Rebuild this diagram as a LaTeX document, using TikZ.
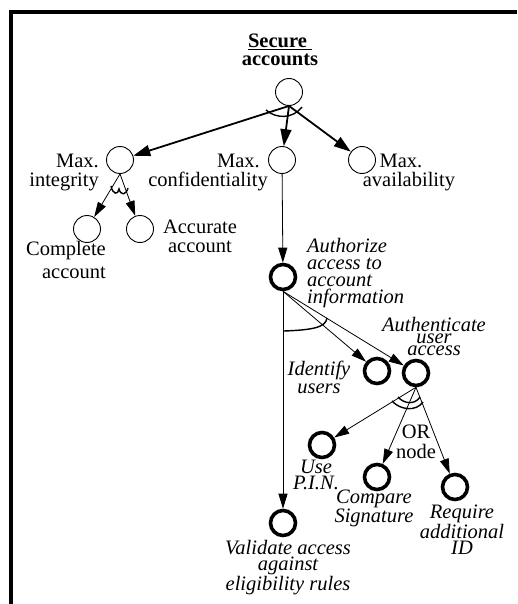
\documentclass[tikz,border=0pt]{standalone}
\usepackage{fontspec}
\setmainfont{Liberation Serif}
\usetikzlibrary{arrows.meta}
\begin{document}
\begin{tikzpicture}[x=1pt,y=-1pt,
  goal/.style={circle,draw,line width=0.9pt,minimum size=27pt,inner sep=0pt},
  opgoal/.style={circle,draw,line width=3.6pt,minimum size=25pt,inner sep=0pt},
  lbl/.style={inner sep=0pt,font=\fontsize{20.5}{19}\selectfont},
  ilbl/.style={inner sep=0pt,font=\fontsize{20.5}{16}\selectfont\itshape},
  bigarrow/.style={line width=1.8pt,-{Triangle[length=17pt,width=11pt]}},
  smallarrow/.style={line width=0.8pt,-{Triangle[length=15pt,width=9pt]}},
  andarc/.style={line width=1.4pt},
  frameline/.style={line width=4pt}
]
\useasboundingbox (0,0) rectangle (517,604);
\draw[frameline] (517,12) -- (11,12) -- (11,604);

% goal nodes
\node[goal] (root) at (289,92) {};
\node[goal] (mi) at (120,160) {};
\node[goal] (mc) at (282,160) {};
\node[goal] (ma) at (362,160) {};
\node[goal] (ca) at (87,229) {};
\node[goal] (aa) at (140,229) {};
\node[opgoal] (auth) at (283,277) {};
\node[opgoal] (idu) at (377,371) {};
\node[opgoal] (aut) at (416,373) {};
\node[opgoal] (pin) at (322,445) {};
\node[opgoal] (cmp) at (377,477) {};
\node[opgoal] (req) at (455,487) {};
\node[opgoal] (val) at (283,523) {};

% labels (anchor = baseline of last line)
\node[lbl,font=\fontsize{20.5}{18}\selectfont\bfseries,align=center,anchor=base] (title) at (280,66) {\underline{Secure\ }\\accounts};
\node[lbl,align=right,anchor=base east] (tmi) at (99,186) {Max.\\integrity};
\node[lbl,align=right,anchor=base east] (tmc) at (268,186) {Max.\hspace*{8pt}\\confidentiality};
\node[lbl,align=center,anchor=base] (tma) at (409,186) {Max.\hspace*{16pt}\\availability};
\node[lbl,align=right,anchor=base east] (tca) at (106,278) {Complete\\[4pt]account};
\node[lbl,align=center,anchor=base] (taa) at (200,252) {Accurate\\account};
\node[ilbl,font=\fontsize{20.5}{17}\selectfont\itshape,align=left,anchor=base west] (tauth) at (307,303) {Authorize\\access to\\account\\information};
\node[ilbl,font=\fontsize{20.5}{12}\selectfont\itshape,align=center,anchor=base] (taut) at (434,355) {Authenticate\\user\\access};
\node[ilbl,align=center,anchor=base] (tidu) at (319,393) {Identify\\[2pt]users};
\node[lbl,align=center,anchor=base] (tor) at (416,458) {OR\\[1pt]node};
\node[ilbl,align=center,anchor=base] (tpin) at (316,489) {Use\\P.I.N.};
\node[ilbl,font=\fontsize{20.5}{15}\selectfont\itshape,align=center,anchor=base] (tcmp) at (374,522) {Compare\\Signature};
\node[ilbl,align=center,anchor=base] (treq) at (462,554) {Require\\additional\\ID};
\node[ilbl,align=center,anchor=base] (tval) at (288,590) {Validate access\\against\\eligibility rules};

% connectors
\draw[bigarrow] (root.south) -- (mi);
\draw[bigarrow] (root.south) -- (mc);
\draw[bigarrow] (root.south) -- (ma);
\draw[smallarrow] (mi.south) -- (ca);
\draw[smallarrow] (mi.south) -- (aa);
\draw[smallarrow] (mc) -- (auth);
\draw[smallarrow] (auth.south) -- (idu);
\draw[smallarrow] (auth.south) -- (aut);
\draw[smallarrow] (auth) -- (val);
\draw[smallarrow] (aut.south) -- (pin);
\draw[smallarrow] (aut.south) -- (cmp);
\draw[smallarrow] (aut.south) -- (req);

% AND / OR arcs
\draw[andarc] (266,110) .. controls (276,119) and (293,119) .. (302,107);
\draw[andarc] (111,186) .. controls (113,195) and (118,195) .. (119,189) .. controls (121,196) and (126,195) .. (128,188);
\draw[andarc] (284,331) .. controls (310,330) and (326,328) .. (327,318);
\draw[andarc] (392,401) .. controls (400,410) and (416,412) .. (423,402);
\draw[andarc] (398,397) .. controls (404,404) and (415,405) .. (420,397);
\end{tikzpicture}
\end{document}
